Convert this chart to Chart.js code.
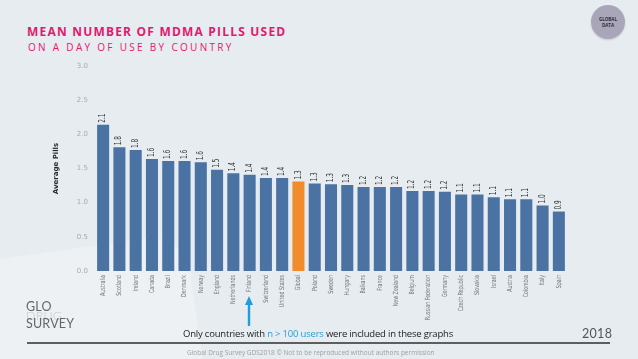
<!DOCTYPE html>
<html>
<head>
<meta charset="utf-8">
<script src="https://cdn.jsdelivr.net/npm/chart.js@4"></script>
<style>
  html, body { margin: 0; padding: 0; }
  body { width: 638px; height: 359px; background: #e6ecef; position: relative; overflow: hidden; font-family: "Open Sans", "DejaVu Sans", sans-serif; }
  #bgShape { position: absolute; left: -60px; top: 250px; width: 260px; height: 200px; background: #edf1f3; border-radius: 40px; transform: rotate(-8deg); }
  #chartBox { position: absolute; left: 0; top: 0; width: 638px; height: 359px; }
  .title { position: absolute; left: 27px; top: 23px; color: #e3186f; font-weight: bold; font-size: 12px; letter-spacing: 1.2px; }
  .subtitle { position: absolute; left: 28px; top: 40px; color: #e3186f; font-size: 10px; letter-spacing: 2.3px; }
  .badge { position: absolute; left: 591px; top: 5px; width: 34px; height: 34px; border-radius: 50%; background: #aaa6b9; color: #2c2c3a; font-size: 4.5px; font-weight: bold; text-align: center; line-height: 6px; padding-top: 11px; box-sizing: border-box; box-shadow: 0 1px 2px rgba(0,0,0,0.15); }
  .logo { position: absolute; left: 26px; top: 303px; font-family: "Lato", "Open Sans", sans-serif; font-size: 12.5px; line-height: 8.7px; color: #666; letter-spacing: 0.2px; }
  .logo .drug { color: #c4c8ca; font-weight: 300; }
  .note { position: absolute; left: 183px; top: 327px; font-size: 9.5px; color: #222; font-family: "Open Sans", sans-serif; letter-spacing: -0.2px; }
  .note span { color: #27a0d9; }
  .year { position: absolute; left: 582px; top: 326px; font-size: 12.5px; color: #555; font-family: "Lato", "Open Sans", sans-serif; letter-spacing: 0.3px; }
  .rule { position: absolute; left: 27px; top: 342px; width: 583px; height: 2px; background: #5e5e5e; }
  .footer { position: absolute; left: 187px; top: 348px; font-size: 6.5px; color: #a0a0a0; }
  .arrow { position: absolute; left: 245px; top: 296px; width: 8px; height: 30px; }
</style>
</head>
<body>
<div id="bgShape"></div>
<div class="title">MEAN NUMBER OF MDMA PILLS USED</div>
<div class="subtitle">ON A DAY OF USE BY COUNTRY</div>
<div class="badge">GLOBAL<br>DATA</div>
<div id="chartBox"><canvas id="myChart" width="638" height="359"></canvas></div>
<svg class="arrow" viewBox="0 0 8 30"><polygon points="4,0 8,9 5.2,9 5.2,30 2.8,30 2.8,9 0,9" fill="#1e9fdb"/></svg>
<div class="logo">GLO<br><span class="drug">DRUG</span><br>SURVEY</div>
<div class="note">Only countries with <span>n &gt; 100 users</span> were included in these graphs</div>
<div class="year">2018</div>
<div class="rule"></div>
<div class="footer">Global Drug Survey GDS2018 © Not to be reproduced without authors permission</div>
<script>
const countries = ['Australia', 'Scotland', 'Ireland', 'Canada', 'Brazil', 'Denmark', 'Norway', 'England',
  'Netherlands', 'Finland', 'Switzerland', 'United States', 'Global', 'Poland', 'Sweden', 'Hungary',
  'Balkans', 'France', 'New Zealand', 'Belgium', 'Russian Federation', 'Germany', 'Czech Republic',
  'Slovakia', 'Israel', 'Austria', 'Colombia', 'Italy', 'Spain'];
const avgPills = [2.14, 1.81, 1.77, 1.64, 1.61, 1.61, 1.59, 1.48, 1.43, 1.41, 1.36, 1.36, 1.31, 1.28,
  1.27, 1.26, 1.23, 1.23, 1.23, 1.17, 1.17, 1.16, 1.12, 1.12, 1.08, 1.05, 1.05, 0.96, 0.87];
const yTicks = [0, 0.5, 1.0, 1.5, 2.0, 2.5, 3.0];

const blue = '#4a73a3';
const orange = '#f18b2c';
const barColors = countries.map(c => c === 'Global' ? orange : blue);
const narrow = '"DejaVu Sans", sans-serif';

// value labels above each bar, turned on their side (squeezed to look condensed)
const barLabels = {
  id: 'barLabels',
  afterDatasetsDraw(chart) {
    const ctx = chart.ctx;
    const meta = chart.getDatasetMeta(0);
    ctx.save();
    ctx.font = '8px ' + narrow;
    ctx.fillStyle = '#333';
    ctx.textAlign = 'left';
    ctx.textBaseline = 'middle';
    meta.data.forEach((bar, i) => {
      ctx.save();
      ctx.translate(bar.x, bar.y - 2);
      ctx.rotate(-Math.PI / 2);
      ctx.scale(0.72, 1);
      ctx.fillText(avgPills[i].toFixed(1), 0, 0);
      ctx.restore();
    });
    ctx.restore();
  }
};

// country names under the bars, same squeeze
const xNames = {
  id: 'xNames',
  afterDraw(chart) {
    const ctx = chart.ctx;
    const xs = chart.scales.x;
    ctx.save();
    ctx.font = '7px ' + narrow;
    ctx.fillStyle = '#6f7477';
    ctx.textAlign = 'right';
    ctx.textBaseline = 'middle';
    countries.forEach((name, i) => {
      ctx.save();
      ctx.translate(xs.getPixelForTick(i), xs.top + 4);
      ctx.rotate(-Math.PI / 2);
      ctx.scale(0.68, 1);
      ctx.fillText(name, 0, 0);
      ctx.restore();
    });
    ctx.restore();
  }
};

const ctx = document.getElementById('myChart').getContext('2d');
new Chart(ctx, {
  type: 'bar',
  data: {
    labels: countries,
    datasets: [{
      data: avgPills,
      backgroundColor: barColors,
      barPercentage: 0.74,
      categoryPercentage: 1.0
    }]
  },
  options: {
    responsive: false,
    animation: false,
    layout: { padding: { left: 52, right: 71, top: 66, bottom: 0 } },
    plugins: { legend: { display: false }, tooltip: { enabled: false } },
    scales: {
      x: {
        grid: { display: false, drawTicks: false },
        border: { display: false },
        afterFit(scale) { scale.height = 88; },
        ticks: { display: false, autoSkip: false }
      },
      y: {
        min: 0,
        max: 3,
        afterFit(scale) { scale.width = 43; },
        afterBuildTicks(scale) { scale.ticks = yTicks.map(v => ({ value: v })); },
        grid: { display: false, drawTicks: false },
        border: { display: false },
        title: {
          display: true,
          text: 'Average Pills',
          color: '#2a2a2a',
          padding: 0,
          font: { family: narrow, size: 7, weight: 'bold' }
        },
        ticks: {
          padding: 7,
          color: '#a3abb0',
          callback: v => v.toFixed(1),
          font: { family: narrow, size: 7 }
        }
      }
    }
  },
  plugins: [barLabels, xNames]
});
</script>
</body>
</html>
